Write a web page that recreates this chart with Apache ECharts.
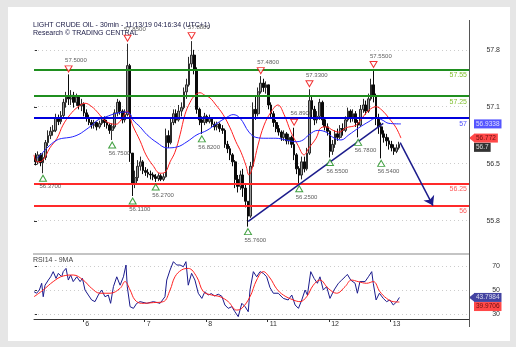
<!DOCTYPE html>
<html>
<head>
<meta charset="utf-8">
<script src="https://cdn.jsdelivr.net/npm/echarts@6/dist/echarts.min.js"></script>
<style>
  html, body { margin: 0; padding: 0; background: #fff; }
  #frame { position: absolute; left: 0; top: 0; width: 516px; height: 347px; background: #e6e6e6; }
  #panel { position: absolute; left: 8px; top: 7px; width: 502px; height: 334px; background: #fff; }
  #chart { position: absolute; left: 0; top: 0; width: 528px; height: 354px; }
</style>
</head>
<body>
<div id="frame"><div id="panel"></div></div>
<div id="chart"></div>
<script>
// hourly bars, x = hours from first bar
const firstOpen = 56.55;
const closes = [56.50,56.58,56.49,56.55,56.72,56.80,56.85,56.86,57.00,56.96,
  57.03,57.18,57.24,57.22,57.26,57.18,57.24,57.14,57.16,57.06,
  57.00,56.95,56.92,56.95,56.90,56.94,56.98,56.95,56.92,56.86,
  56.90,57.06,57.18,57.08,56.98,57.04,57.60,56.60,56.25,56.32,
  56.45,56.50,56.40,56.38,56.36,56.35,56.33,56.31,56.34,56.30,
  56.33,56.80,56.72,56.95,57.05,56.98,57.08,57.12,57.30,57.38,
  57.62,57.72,57.55,57.10,56.98,56.95,57.02,56.96,57.00,56.93,
  56.90,56.93,56.88,56.86,56.70,56.65,56.58,56.50,56.30,56.22,
  56.35,56.20,56.05,55.88,56.45,57.10,57.05,57.30,57.40,57.35,
  57.38,57.15,57.05,56.95,56.88,56.84,56.78,56.82,56.74,56.78,
  56.70,56.58,56.42,56.35,56.50,56.42,56.60,57.20,57.10,56.98,
  57.02,57.18,56.98,56.90,56.85,56.62,56.70,56.82,56.78,56.88,
  56.86,56.98,57.08,57.00,57.05,56.95,56.92,57.10,57.15,57.08,
  57.22,57.38,57.25,57.00,56.90,56.82,56.78,56.74,56.70,56.66,
  56.62,56.66,56.70];
const highs = [56.60,56.62,56.60,56.60,56.75,56.86,56.90,56.92,57.05,57.04,
  57.08,57.22,57.30,57.50,57.32,57.30,57.28,57.26,57.22,57.18,
  57.10,57.04,56.98,56.98,56.96,56.97,57.02,57.02,56.98,56.94,
  56.94,57.10,57.22,57.20,57.10,57.10,57.85,57.62,56.60,56.40,
  56.52,56.56,56.52,56.44,56.42,56.40,56.38,56.36,56.37,56.36,
  56.37,56.88,56.86,57.00,57.10,57.10,57.15,57.18,57.35,57.45,
  57.70,57.88,57.78,57.58,57.12,57.02,57.06,57.04,57.04,57.00,
  56.96,56.96,56.95,56.92,56.88,56.74,56.68,56.60,56.52,56.35,
  56.40,56.42,56.25,56.05,56.50,57.18,57.25,57.35,57.48,57.45,
  57.42,57.38,57.18,57.08,56.98,56.92,56.86,56.86,56.84,56.82,
  56.80,56.89,56.60,56.45,56.56,56.56,56.66,57.33,57.25,57.14,
  57.08,57.22,57.20,57.00,56.94,56.86,56.75,56.86,56.88,56.92,
  56.94,57.02,57.12,57.10,57.10,57.08,56.98,57.15,57.22,57.20,
  57.28,57.45,57.55,57.28,57.05,56.95,56.86,56.82,56.78,56.74,
  56.70,56.70,56.73];
const lows = [56.46,56.47,56.45,56.37,56.52,56.68,56.76,56.80,56.84,56.92,
  56.93,57.00,57.12,57.15,57.15,57.12,57.14,57.10,57.08,57.02,
  56.96,56.92,56.88,56.88,56.86,56.88,56.92,56.90,56.88,56.82,
  56.75,56.88,57.02,57.04,56.94,56.95,57.02,56.50,56.11,56.20,
  56.28,56.40,56.36,56.34,56.32,56.30,56.29,56.27,56.28,56.28,
  56.28,56.32,56.66,56.70,56.92,56.94,56.96,57.02,57.10,57.22,
  57.36,57.58,57.50,57.05,56.92,56.82,56.92,56.94,56.94,56.90,
  56.86,56.86,56.84,56.82,56.66,56.60,56.52,56.45,56.20,56.15,
  56.18,56.10,55.98,55.76,55.86,56.44,56.98,57.02,57.28,57.30,
  57.28,57.10,57.00,56.90,56.84,56.80,56.74,56.74,56.70,56.70,
  56.66,56.52,56.36,56.25,56.30,56.38,56.40,56.58,57.00,56.92,
  56.94,56.98,56.92,56.86,56.80,56.55,56.58,56.66,56.74,56.76,
  56.80,56.84,56.96,56.95,56.96,56.90,56.78,56.90,57.06,57.04,
  57.06,57.20,57.18,56.92,56.82,56.54,56.72,56.68,56.64,56.62,
  56.58,56.60,56.64];

// swing highs / lows (bar index, price)
const highBars = [13, 36, 61, 88, 101, 107, 132];
const highPrices = [57.50, 57.85, 57.88, 57.48, 56.89, 57.33, 57.55];
const lowBars = [3, 30, 38, 47, 65, 83, 103, 115, 126, 135];
const lowPrices = [56.37, 56.75, 56.11, 56.27, 56.82, 55.76, 56.25, 56.55, 56.78, 56.54];

// support / resistance
const levelPrices = [57.55, 57.25, 57, 56.25, 56];
const levelNames = ['57.55', '57.25', '57', '56.25', '56'];

// moving averages on price [hour, price]
const maFast = [[0,56.58],[1.2,56.50],[3.5,56.52],[6.2,56.66],[9.0,56.77],[11.3,56.92],[14.1,57.04],
  [16.8,57.12],[19.9,57.17],[22.6,57.13],[25.0,57.06],[27.3,56.98],[29.7,56.94],[32.0,56.93],
  [34.0,56.98],[36.3,57.08],[38.6,56.91],[41.4,56.74],[43.7,56.58],[46.4,56.46],[49.2,56.37],
  [51.1,56.38],[53.1,56.50],[55.0,56.61],[57.0,56.81],[58.9,57.04],[60.9,57.18],[62.8,57.26],
  [64.8,57.29],[66.7,57.26],[68.7,57.23],[71.0,57.15],[73.8,57.04],[76.5,56.89],[78.8,56.73],
  [80.8,56.61],[82.7,56.46],[83.9,56.35],[85.5,56.46],[87.4,56.69],[89.8,56.92],[92.5,57.07],
  [95.2,57.15],[97.6,57.04],[100.3,56.84],[103.0,56.69],[105.4,56.58],[107.3,56.66],[110.1,56.77],
  [112.0,56.89],[114.0,56.90],[116.7,56.86],[119.0,56.84],[121.8,56.89],[125.7,56.92],[128.0,57.00],
  [130.7,57.09],[133.5,57.13],[135.8,57.09],[138.5,57.00],[141.3,56.89],[143.2,56.772]];
const maSlow = [[1.2,56.54],[3.5,56.61],[6.2,56.69],[9.0,56.75],[11.3,56.77],[14.1,56.78],[17.2,56.81],
  [19.9,56.86],[22.6,56.92],[25.0,56.98],[27.7,57.01],[30.4,57.04],[32.8,57.06],[35.5,57.07],
  [37.5,57.05],[38.6,56.98],[41.4,56.90],[44.1,56.81],[48.0,56.72],[51.9,56.66],[55.8,56.67],
  [59.7,56.73],[63.6,56.81],[67.5,56.86],[71.4,56.94],[75.3,57.01],[77.7,57.04],[80.4,57.00],
  [83.9,56.84],[86.6,56.78],[90.5,56.77],[94.4,56.77],[98.4,56.75],[102.3,56.73],[105.0,56.75],
  [107.3,56.81],[110.8,56.86],[114.0,56.84],[116.7,56.78],[119.8,56.75],[122.9,56.81],[126.8,56.89],
  [130.7,56.96],[133.5,57.00],[135.8,56.98],[138.5,56.94],[143.2,56.9338]];

// RSI14 and its 9MA [hour, value]
const rsi = [[0,48.6],[1.0,47.3],[2.1,50],[3.0,55.6],[3.6,44.4],[4.3,54],[5.6,58.3],[6.5,61],[7.5,65.3],
  [8.6,59.7],[9.5,63.9],[10.8,61],[11.4,65.3],[12.5,68],[13.4,58.3],[14.3,62.5],[15.3,57],[16.7,61],
  [18.0,57],[18.9,59.7],[19.9,50],[21.2,45.8],[22.5,41.7],[23.8,40.3],[25.1,45.8],[26.4,50],[27.7,44.4],
  [29.0,45.8],[29.9,38.9],[31.0,52.8],[32.3,61],[33.6,54],[34.9,61],[35.9,70.8],[36.4,52.8],[37.5,36.1],
  [38.8,34.7],[40.1,38.9],[41.4,40.3],[44.0,38.9],[46.6,40.3],[49.2,38.9],[51.1,44.4],[51.8,58.3],
  [53.1,66.7],[54.4,73.6],[55.7,70.8],[57.0,70.8],[58.3,69.4],[59.3,73.6],[60.2,54],[61.5,63.9],
  [62.8,58.3],[64.1,47.3],[65.5,43],[66.7,48.6],[68.0,45.8],[69.2,47],[70.5,45],[71.9,46.5],[73.3,44.8],
  [74.5,37.5],[75.8,34.7],[77.2,36.1],[78.4,31.9],[79.7,27.8],[81.1,38.9],[82.4,36.1],[83.6,31.9],
  [84.3,50],[85.6,65.3],[86.9,61],[88.2,65.3],[89.5,63.9],[90.8,61],[92.1,52],[93.4,47.3],[95.3,47.3],
  [97.3,43],[99.2,41.7],[100.6,45.8],[101.9,37.5],[103.2,34.7],[104.5,41.7],[105.8,50],[106.7,45.8],
  [108.0,65.3],[109.3,59.7],[110.6,55.6],[111.6,61],[112.9,50],[114.2,52.8],[115.5,43],[117.1,50],
  [118.8,55.6],[120.1,58.3],[121.4,61],[122.3,63],[123.6,58.3],[125.3,55.6],[126.2,47.3],[127.2,57],
  [129.2,57],[130.5,61],[131.8,65.3],[132.4,55.6],[133.5,41.7],[134.8,47.3],[136.3,43],[137.6,40.3],
  [138.9,41.7],[140.2,37.5],[141.6,40.3],[142.6,43.7984]];
const rsiMa = [[0,44.4],[3.6,50],[7.5,57],[11.4,61.7],[15.3,62.5],[19.2,58.3],[22.5,51.4],[25.8,47.3],
  [29.7,47.3],[33.6,51.4],[35.5,57],[37.5,50],[39.4,41.7],[42.0,38.9],[46.6,39.5],[50.5,40.3],[53.1,50],
  [55.0,61],[57.6,66.7],[60.2,68],[63.5,61],[66.1,48.6],[69.4,45.8],[72.6,44.4],[75.8,40.3],[79.1,33.3],
  [81.1,34.7],[84.3,44.4],[86.9,58.3],[89.5,65.3],[92.1,60],[94.7,51],[97.3,45.8],[101.2,41.7],
  [103.8,40.3],[106.4,44.4],[109.0,54],[111.6,58.3],[114.8,51.4],[118.1,47.3],[121.4,52.8],[123.9,58.3],
  [126.5,57],[129.8,55.6],[132.4,57],[135.0,48.6],[137.6,43],[140.2,40.3],[142.6,39.9706]];

// trend line and projected move
const trendFrom = [83.6, 55.82];
const trendTo = [136.3, 56.94];
const arrowFrom = [142.9, 56.72];
const arrowTo = [155.7, 56.0];

// axis ticks
const priceTicks = [55.825, 56.475, 57.125, 57.775];
const priceTickLabels = ['55.8', '56.5', '57.1', '57.8'];
const rsiTicks = [30, 50, 70];
const dayTicks = [19.2, 43.2, 67.2, 91.2, 115.2, 139.2];
const dayLabels = ['6', '7', '8', '11', '12', '13'];

const FONT = 'Liberation Sans, Arial, sans-serif';
const X_MAX = 169.76;
const levelColors = ['#1f8f1f', '#1f8f1f', '#0000dd', '#ff2a2a', '#ff2a2a'];
const levelTextColors = ['#80c030', '#80c030', '#5050ff', '#ff5a5a', '#ff5a5a'];

const opens = closes.map((c, i) => i === 0 ? firstOpen : closes[i - 1]);
const candles = closes.map((c, i) => [i + 0.5, opens[i], c, lows[i], highs[i]]);
const last = arr => arr[arr.length - 1];

function pick(v, ticks, labels) {
  let best = 0;
  ticks.forEach((t, i) => { if (Math.abs(t - v) < Math.abs(ticks[best] - v)) best = i; });
  return labels[best];
}

function tagSeries(axis, value, bg, fg, dy) {
  return {
    type: 'scatter', xAxisIndex: axis, yAxisIndex: axis, z: 8, silent: true, clip: false,
    symbol: 'circle', symbolSize: 1, itemStyle: { color: 'rgba(0,0,0,0)' },
    data: [[X_MAX, value]],
    label: {
      show: true, position: 'right', distance: 4.5, offset: [0, dy],
      formatter: String(value), fontSize: 6.5, fontFamily: FONT, color: fg,
      backgroundColor: bg, padding: [1, 2, 0, 2], lineHeight: 8
    }
  };
}
function pointerSeries(axis, value, bg) {
  return {
    type: 'scatter', xAxisIndex: axis, yAxisIndex: axis, z: 8, silent: true, clip: false,
    symbol: 'path://M0,4L5,0L5,8Z', symbolSize: [5, 8], symbolOffset: [2.5, 0],
    itemStyle: { color: bg }, data: [[X_MAX, value]]
  };
}

const chart = echarts.init(document.getElementById('chart'), null, { renderer: 'canvas' });
chart.setOption({
  animation: false,
  backgroundColor: 'transparent',
  title: [
    {
      left: 33, top: 21.5, padding: 0, itemGap: 1,
      text: 'LIGHT CRUDE OIL - 30min - 11/13/19 04:16:34 (UTC+1)',
      subtext: 'Research © TRADING CENTRAL',
      textStyle: { fontSize: 7, fontWeight: 'normal', color: '#20204a', fontFamily: FONT },
      subtextStyle: { fontSize: 7, color: '#20204a', fontFamily: FONT }
    },
    {
      left: 33, top: 256.5, padding: 0, text: 'RSI14 - 9MA',
      textStyle: { fontSize: 7, fontWeight: 'normal', color: '#444', fontFamily: FONT }
    }
  ],
  grid: [
    { left: 34, top: 20, width: 435, height: 234 },
    { left: 34, top: 255, width: 435, height: 64 }
  ],
  xAxis: [
    { type: 'value', gridIndex: 0, min: 0, max: X_MAX, show: false },
    {
      type: 'value', gridIndex: 1, min: 0, max: X_MAX,
      axisLine: { show: true, lineStyle: { color: '#333' } },
      axisTick: { show: true, customValues: dayTicks, length: 3, lineStyle: { color: '#333' } },
      axisLabel: {
        customValues: dayTicks, formatter: v => pick(v, dayTicks, dayLabels),
        align: 'left', margin: 2, padding: [0, 0, 0, 2], fontSize: 7, color: '#333', fontFamily: FONT
      },
      splitLine: { show: false }
    }
  ],
  yAxis: [
    {
      type: 'value', gridIndex: 0, position: 'right', min: 55.4471, max: 58.1214, scale: true,
      axisLine: { show: false },
      axisTick: { show: true, customValues: priceTicks, length: 3, lineStyle: { color: '#333' } },
      axisLabel: {
        customValues: priceTicks, formatter: v => pick(v, priceTicks, priceTickLabels),
        align: 'right', margin: 31, fontSize: 7, color: '#333', fontFamily: FONT
      },
      splitLine: { show: false }
    },
    {
      type: 'value', gridIndex: 1, position: 'right', min: 25.83, max: 79.17, scale: true,
      axisLine: { show: false },
      axisTick: { show: true, customValues: rsiTicks, length: 3, lineStyle: { color: '#333' } },
      axisLabel: {
        customValues: rsiTicks, formatter: v => String(Math.round(v)),
        align: 'right', margin: 31, fontSize: 7, color: '#333', fontFamily: FONT
      },
      splitLine: { show: false }
    }
  ],
  graphic: [
    { type: 'line', silent: true, z: 10, shape: { x1: 469.5, y1: 20, x2: 469.5, y2: 327 },
      style: { stroke: '#555', lineWidth: 1 } },
    { type: 'line', silent: true, z: 10, shape: { x1: 33, y1: 254, x2: 469, y2: 254 },
      style: { stroke: '#c4c4c4', lineWidth: 2 } }
  ],
  series: [
    {
      type: 'line', xAxisIndex: 0, yAxisIndex: 0, data: [], silent: true,
      markLine: {
        silent: true, z: 1, symbol: ['none', 'none'], label: { show: false },
        lineStyle: { color: '#cccccc', type: [1, 3], width: 1 },
        data: priceTicks.map(v => ({ yAxis: v }))
      }
    },
    {
      type: 'candlestick', xAxisIndex: 0, yAxisIndex: 0, z: 2, silent: true,
      data: candles, encode: { x: 0, y: [1, 2, 3, 4] }, barWidth: 2.2,
      itemStyle: { color: '#9a9a9a', color0: '#0a0a0a', borderColor: '#2a2a2a', borderColor0: '#0a0a0a', borderWidth: 1 }
    },
    {
      type: 'line', xAxisIndex: 0, yAxisIndex: 0, z: 3, data: maFast, showSymbol: false, smooth: 0.4,
      silent: true, lineStyle: { color: '#ff2020', width: 1 }
    },
    {
      type: 'line', xAxisIndex: 0, yAxisIndex: 0, z: 3, data: maSlow, showSymbol: false, smooth: 0.4,
      silent: true, lineStyle: { color: '#2222ff', width: 1 }
    },
    {
      type: 'line', xAxisIndex: 0, yAxisIndex: 0, data: [], silent: true,
      markLine: {
        silent: true, z: 5, symbol: ['none', 'none'],
        data: levelPrices.map((v, i) => ({
          yAxis: v,
          lineStyle: { color: levelColors[i], width: 2, type: 'solid' },
          label: {
            show: true, position: 'insideEndBottom', distance: 2, formatter: levelNames[i],
            color: levelTextColors[i], fontSize: 7, fontFamily: FONT
          }
        }))
      }
    },
    {
      type: 'line', xAxisIndex: 0, yAxisIndex: 0, data: [], silent: true,
      markLine: {
        silent: true, z: 5, symbol: ['none', 'none'], label: { show: false },
        lineStyle: { color: '#1c1c8c', width: 1.5, type: 'solid' },
        data: [
          [{ coord: trendFrom }, { coord: trendTo }],
          [{ coord: arrowFrom }, { coord: arrowTo, symbol: 'arrow', symbolSize: 9 }]
        ]
      }
    },
    {
      type: 'scatter', xAxisIndex: 0, yAxisIndex: 0, z: 6, silent: true, clip: false,
      data: highBars.map((b, i) => [b + 0.5, highPrices[i]]),
      symbol: 'path://M0,0L10,0L5,9Z', symbolSize: [7, 6], symbolOffset: [0, -5.5],
      itemStyle: { color: '#fff', borderColor: '#ee0000', borderWidth: 1 },
      label: {
        show: true, position: 'top', distance: 2, align: 'left', offset: [-3.5, 0],
        fontSize: 6, color: '#333', fontFamily: FONT, formatter: p => p.value[1].toFixed(4)
      }
    },
    {
      type: 'scatter', xAxisIndex: 0, yAxisIndex: 0, z: 6, silent: true, clip: false,
      data: lowBars.map((b, i) => [b + 0.5, lowPrices[i]]),
      symbol: 'path://M5,0L10,9L0,9Z', symbolSize: [7, 6], symbolOffset: [0, 5],
      itemStyle: { color: '#fff', borderColor: '#118811', borderWidth: 1 },
      label: {
        show: true, position: 'bottom', distance: 2, align: 'left', offset: [-3.5, 0],
        fontSize: 6, color: '#333', fontFamily: FONT, formatter: p => p.value[1].toFixed(4)
      }
    },
    tagSeries(0, last(maSlow)[1], '#2b2bff', '#fff', 0),
    pointerSeries(0, last(maFast)[1], '#ff1a1a'),
    tagSeries(0, last(maFast)[1], '#ff1a1a', '#4a0000', 0),
    tagSeries(0, last(closes), '#000', '#fff', 3),
    {
      type: 'line', xAxisIndex: 1, yAxisIndex: 1, z: 3, data: rsi, showSymbol: false, silent: true,
      lineStyle: { color: '#1a1a8c', width: 1 },
      markLine: {
        silent: true, z: 1, symbol: ['none', 'none'], label: { show: false },
        lineStyle: { color: '#cccccc', type: [1, 3], width: 1 },
        data: rsiTicks.map(v => ({ yAxis: v }))
      }
    },
    {
      type: 'line', xAxisIndex: 1, yAxisIndex: 1, z: 3, data: rsiMa, showSymbol: false, smooth: 0.4,
      silent: true, lineStyle: { color: '#ff2020', width: 1 }
    },
    pointerSeries(1, last(rsi)[1], '#14148a'),
    tagSeries(1, last(rsi)[1], '#14148a', '#fff', 0),
    tagSeries(1, last(rsiMa)[1], '#ff1a1a', '#4a0000', 4.5)
  ]
});
</script>
</body>
</html>
